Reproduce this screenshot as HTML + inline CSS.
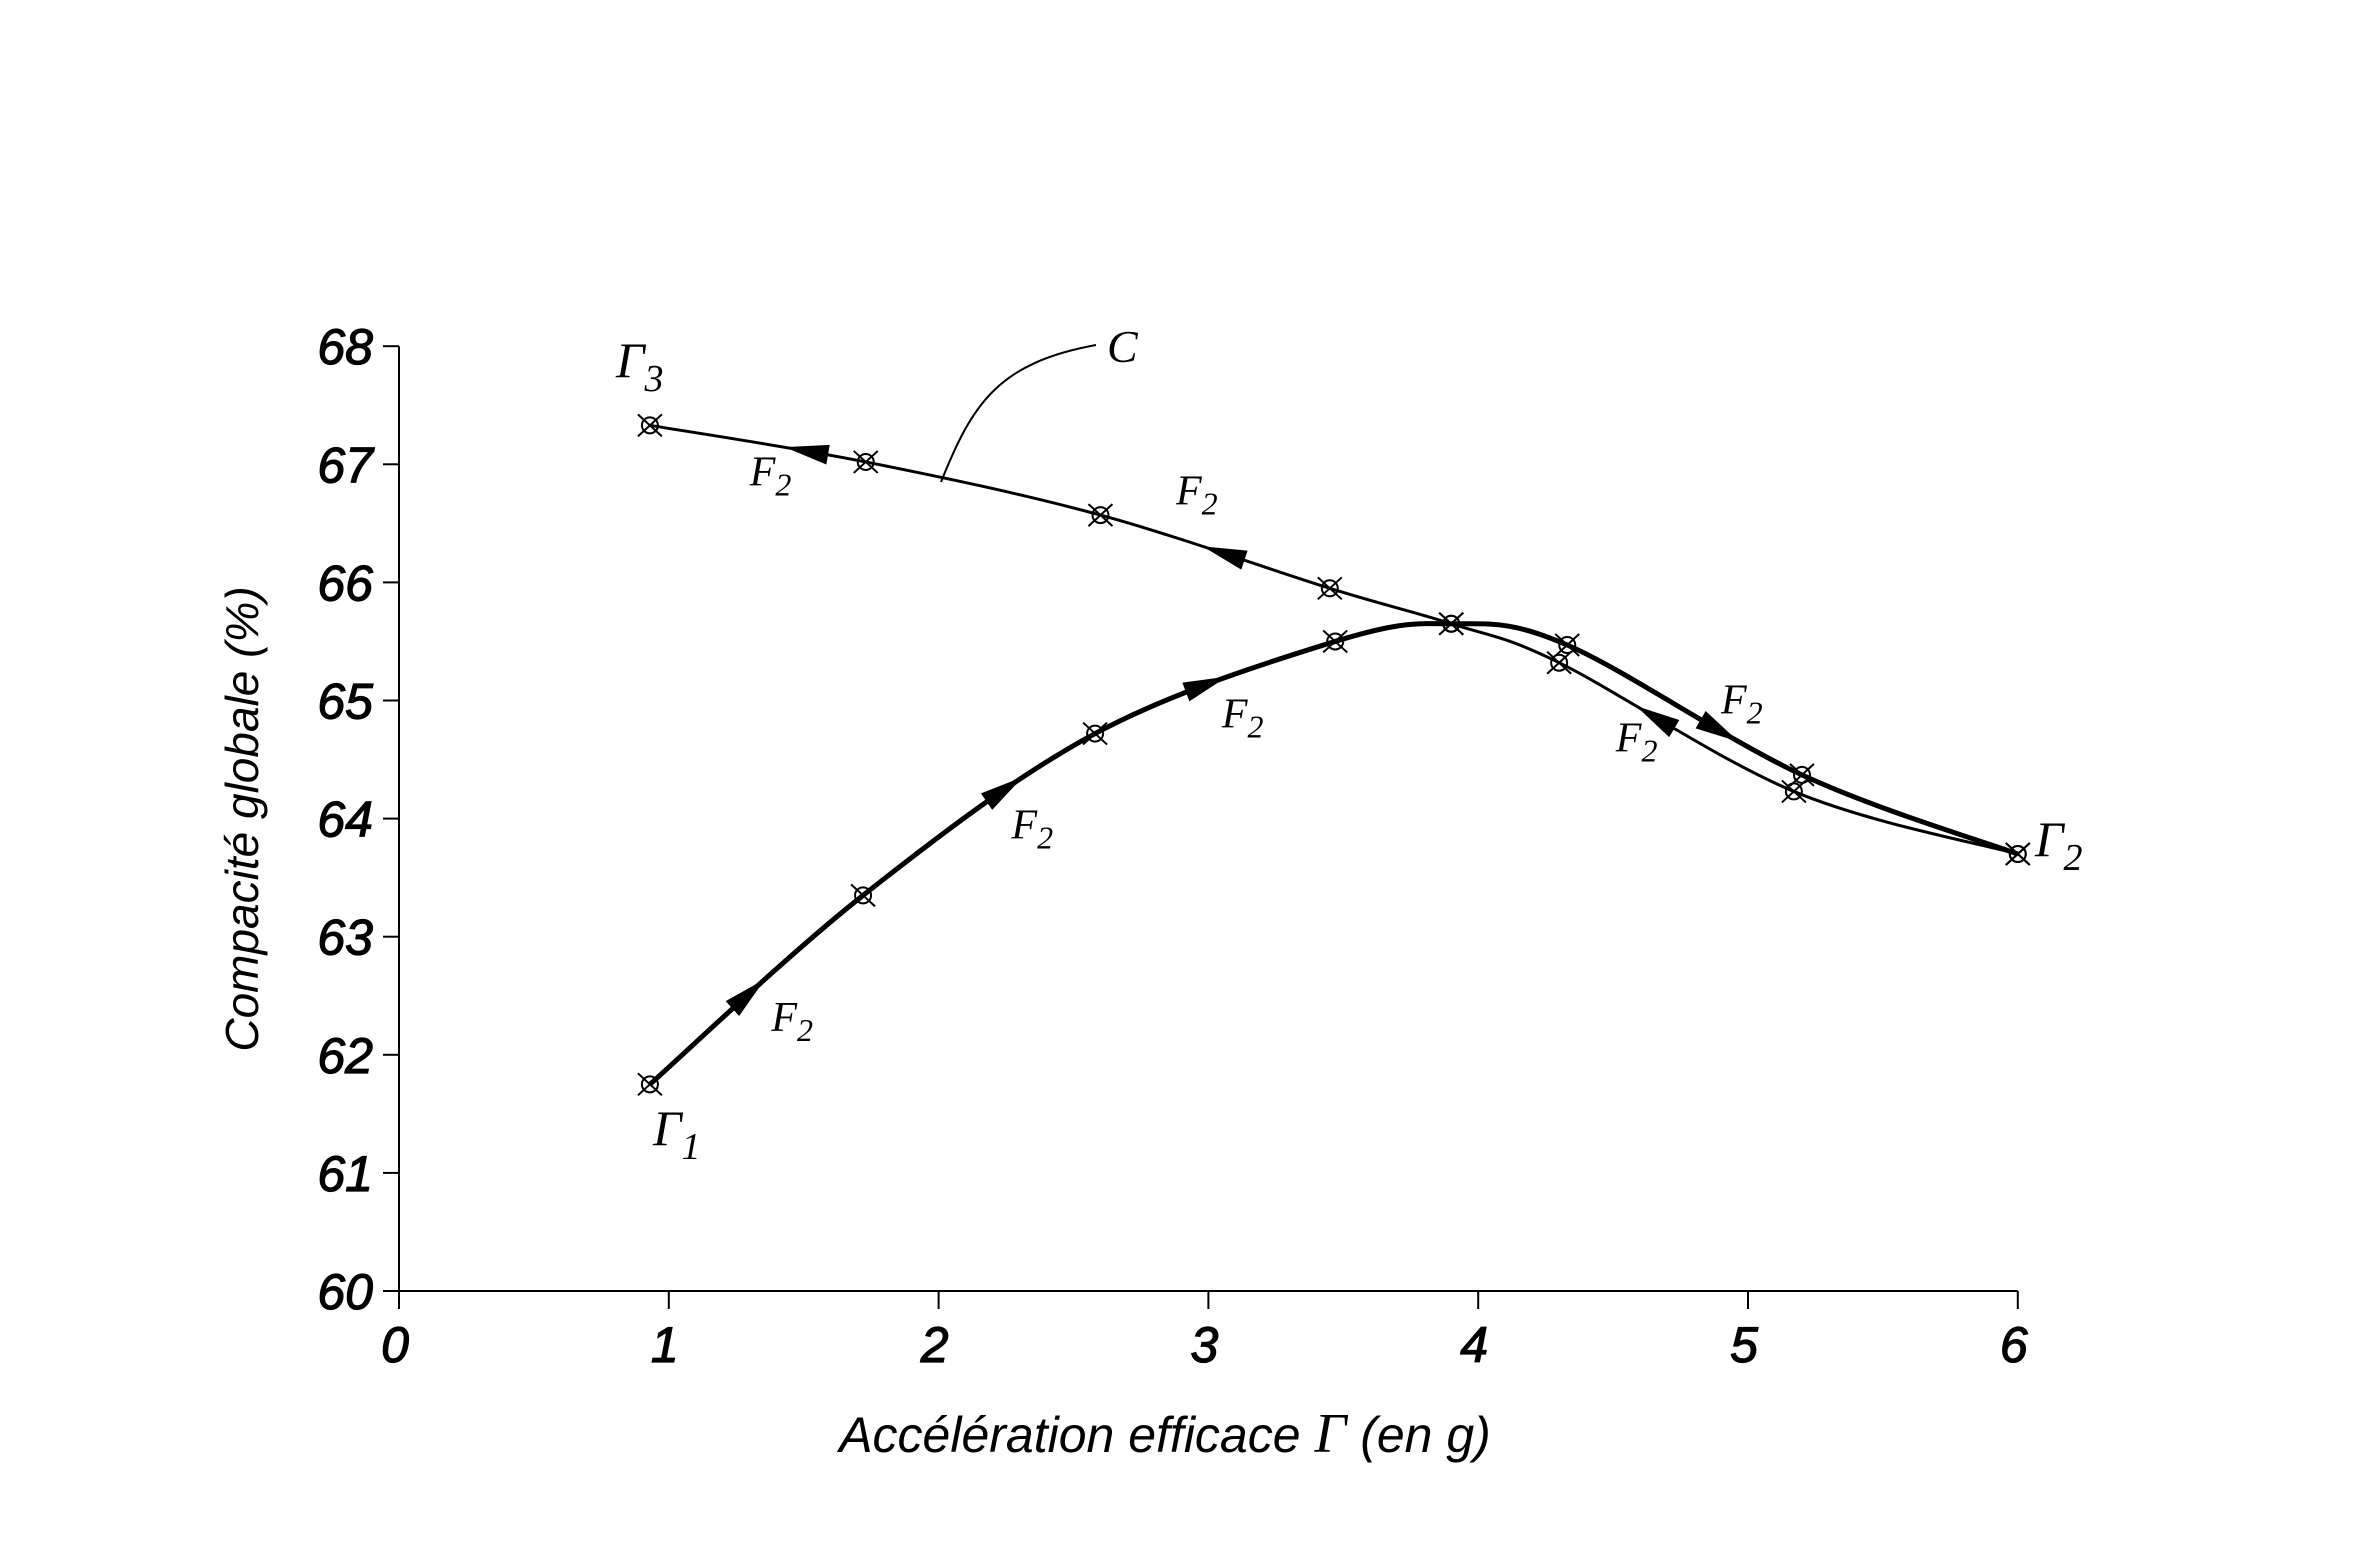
<!DOCTYPE html>
<html><head><meta charset="utf-8"><style>
html,body{margin:0;padding:0;background:#fff;}
svg{display:block;}
text{font-family:"Liberation Sans",sans-serif;}
.tk{font-size:50px;font-style:italic;fill:#000;stroke:#000;stroke-width:1.2px;}
.ser{font-family:"Liberation Serif",serif;font-style:italic;fill:#000;}
</style></head><body>
<svg id="chart" width="2376" height="1560" viewBox="0 0 2376 1560" xmlns="http://www.w3.org/2000/svg">
<g id="axes"></g>
<g id="series"></g>
<g id="labels">
<text transform="translate(258,819) rotate(-90)" text-anchor="middle" style="font-size:46px;font-style:italic">Compacité globale (%)</text>
<text x="1165" y="1452" text-anchor="middle" style="font-size:50px;font-style:italic">Accélération efficace <tspan class="ser" style="font-size:56px">Γ</tspan>  (en g)</text>
<text class="ser" x="616" y="377" style="font-size:50px">Γ<tspan dy="14" style="font-size:38px">3</tspan></text>
<text class="ser" x="653" y="1145" style="font-size:50px">Γ<tspan dy="14" style="font-size:38px">1</tspan></text>
<text class="ser" x="2035" y="856" style="font-size:50px">Γ<tspan dy="14" style="font-size:38px">2</tspan></text>
<text class="ser" x="1107" y="362" style="font-size:46px">C</text>
<path d="M941,482 C972,405 997,363 1096,345" fill="none" stroke="#000" stroke-width="2"/>
</g>
</svg>
<script>
const yTicks=[60,61,62,63,64,65,66,67,68];
const xTicks=[0,1,2,3,4,5,6];
const upX=[0.93,1.72,2.58,3.47,3.9,4.33,5.2,6.0];
const upY=[61.75,63.35,64.72,65.5,65.65,65.47,64.37,63.7];
const downX=[6.0,5.17,4.3,3.9,3.45,2.6,1.73,0.93];
const downY=[63.7,64.23,65.32,65.65,65.95,66.57,67.02,67.33];
const f2Labels=[[1.30,66.82],[2.88,66.66],[3.05,64.77],[2.27,63.83],[1.38,62.2],[4.90,64.89],[4.51,64.57]];
const upArrowX=[1.3,2.25,3.0,4.9];
const downArrowX=[4.65,3.05,1.5];

const X0=399,XS=269.8,Y0=1291,YS=118.1;
const sx=v=>X0+v*XS, sy=v=>Y0-(v-60)*YS;
const NS="http://www.w3.org/2000/svg";
function mk(t,a,p){const e=document.createElementNS(NS,t);for(const k in a)e.setAttribute(k,a[k]);p.appendChild(e);return e;}
const ax=document.getElementById('axes'), sr=document.getElementById('series'), lb=document.getElementById('labels');

let e=mk('line',{x1:X0,y1:sy(68),x2:X0,y2:Y0,stroke:'#000','stroke-width':2},ax);


e=mk('line',{x1:X0,y1:Y0,x2:sx(6),y2:Y0,stroke:'#000','stroke-width':2},ax);


yTicks.forEach(v=>{
  let t=mk('line',{x1:X0-16,y1:sy(v),x2:X0,y2:sy(v),stroke:'#000','stroke-width':2},ax);
  
  
  let l=mk('text',{x:X0-26,y:sy(v)+18,'text-anchor':'end',class:'tk'},ax);l.textContent=v;
  
  
});
xTicks.forEach(v=>{
  let t=mk('line',{x1:sx(v),y1:Y0,x2:sx(v),y2:Y0+18,stroke:'#000','stroke-width':2},ax);
  
  
  let l=mk('text',{x:sx(v)-4,y:1362,'text-anchor':'middle',class:'tk'},ax);l.textContent=v;
  
  
});

function catmull(P){let d=`M${P[0][0]},${P[0][1]}`;
  for(let i=0;i<P.length-1;i++){const p0=P[i-1]||P[i],p1=P[i],p2=P[i+1],p3=P[i+2]||P[i+1];
    d+=` C${p1[0]+(p2[0]-p0[0])/6},${p1[1]+(p2[1]-p0[1])/6} ${p2[0]-(p3[0]-p1[0])/6},${p2[1]-(p3[1]-p1[1])/6} ${p2[0]},${p2[1]}`;}
  return d;}
function drawSeries(xs,ys,w,name){
  const P=xs.map((x,i)=>[sx(x),sy(ys[i])]);
  const p=mk('path',{d:catmull(P),fill:'none',stroke:'#000','stroke-width':w},sr);
  
  
  return {p,L:p.getTotalLength()};
}
const up=drawSeries(upX,upY,5,'rising-curve');
const dn=drawSeries(downX,downY,3,'falling-curve-c');
function arrowAt(s,xv){
  const tx=sx(xv);let best=0,bd=1e9;
  for(let l=0;l<=s.L;l+=2){const q=s.p.getPointAtLength(l);const d=Math.abs(q.x-tx);if(d<bd){bd=d;best=l;}}
  const a=s.p.getPointAtLength(best), b=s.p.getPointAtLength(Math.min(best+2,s.L));
  const ang=Math.atan2(b.y-a.y,b.x-a.x)*180/Math.PI;
  const t=mk('polygon',{points:'20,0 -24,-10 -24,10',fill:'#000',transform:`translate(${a.x},${a.y}) rotate(${ang})`},sr);
  
  
}
upArrowX.forEach(x=>arrowAt(up,x));
downArrowX.forEach(x=>arrowAt(dn,x));
function marker(x,y){
  const g=mk('g',{transform:`translate(${sx(x)},${sy(y)})`,stroke:'#000','stroke-width':2,fill:'none'},sr);
  
  
  mk('circle',{r:8},g);mk('line',{x1:-12,y1:-11,x2:12,y2:11},g);mk('line',{x1:-12,y1:11,x2:12,y2:-11},g);
}
upX.forEach((x,i)=>marker(x,upY[i]));
downX.forEach((x,i)=>marker(x,downY[i]));
f2Labels.forEach(([x,y])=>{
  const t=mk('text',{x:sx(x),y:sy(y),class:'ser',style:'font-size:42px'},lb);
  
  
  t.textContent='F';
  const s=mk('tspan',{dy:10,style:'font-size:32px'},t);s.textContent='2';
});
</script>
</body></html>
